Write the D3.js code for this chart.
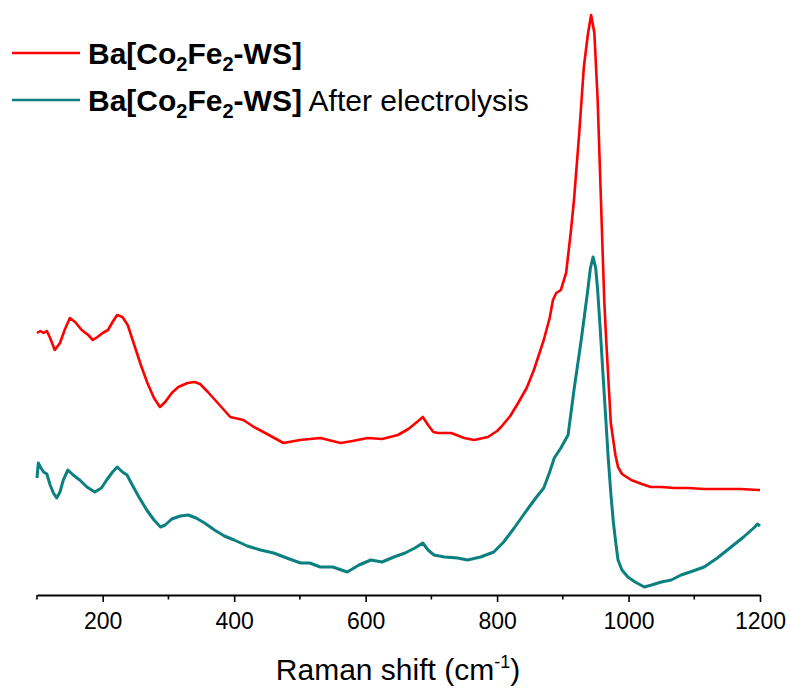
<!DOCTYPE html>
<html>
<head>
<meta charset="utf-8">
<script src="https://cdn.jsdelivr.net/npm/d3@7"></script>
<style>
  html, body { margin: 0; padding: 0; background: #fff; }
  svg { display: block; font-family: "Liberation Sans", Arial, sans-serif; }
</style>
</head>
<body>
<svg id="chart" width="790" height="690"></svg>
<script>
// ---- Data (Raman shift in cm-1, intensity in arbitrary units) ----
const redShift = [100,105,110,115,120,127,135,142,150,158,168,178,185,192,200,208,215,222,230,238,248,258,268,278,287,295,305,315,329,340,348,360,375,394,414,430,450,475,500,531,562,580,603,625,649,665,680,687,695,703,710,730,750,765,786,800,806,820,832,845,856,871,880,885,890,897,905,912,917,925,932,938,943,948,953,958,961,963,966,973,980,984,990,1004,1020,1034,1050,1070,1091,1115,1141,1170,1198,1200];
const redIntensity = [267,269,267,269,262,250,257,270,282,278,270,265,260,263,267,270,278,285,283,275,255,235,217,202,193,198,207,213,217,218,216,208,197,183,180,173,166,157,160,162,157,159,162,161,165,171,179,183,175,168,167,167,162,160,163,169,173,184,197,212,230,260,282,300,307,310,327,367,400,467,533,565,585,567,500,400,340,300,260,177,145,133,126,120,116,113,113,112,112,111,111,111,110,110];

const tealShift = [100,102,106,110,115,120,125,130,135,140,147,155,165,176,188,198,206,215,222,230,237,245,255,267,278,288,295,305,318,330,342,355,370,385,400,420,440,460,480,501,515,531,550,572,590,608,625,643,660,675,687,695,704,720,740,755,775,795,810,826,840,851,860,871,880,887,897,908,917,928,938,942,946,950,953,957,961,965,969,973,977,981,984,990,999,1010,1024,1035,1050,1065,1080,1098,1115,1135,1156,1175,1192,1196,1200];
const tealIntensity = [122,137,132,128,126,115,107,102,108,120,130,125,120,113,108,112,120,128,133,128,125,115,103,90,80,73,75,81,84,85,82,77,70,64,60,54,50,47,42,37,37,33,33,28,35,40,38,43,47,52,57,50,45,43,42,40,43,48,58,72,85,95,103,112,128,142,152,165,210,260,310,332,343,332,310,270,227,185,143,107,77,55,40,30,23,18,13,15,18,20,25,29,33,42,53,63,73,76,74];

const seriesColors = ["#ff0000", "#0c8080"];
const xTicks = [200, 400, 600, 800, 1000, 1200];
const xMinorTicks = [100, 300, 500, 700, 900, 1100];
const xTitle = "Raman shift (cm";

// ---- Layout ----
const svg = d3.select("#chart");
const x = d3.scaleLinear().domain([100, 1200]).range([37, 760]);
const y = d3.scaleLinear().domain([0, 600]).range([600, 0]);
const axisY = 595;

const line = d3.line().x(d => x(d[0])).y(d => y(d[1]));

const redData = redShift.map((s, i) => [s, redIntensity[i]]);
const tealData = tealShift.map((s, i) => [s, tealIntensity[i]]);

svg.append("path").datum(redData)
  .attr("d", line).attr("fill", "none")
  .attr("stroke", seriesColors[0]).attr("stroke-width", 2.6)
  .attr("stroke-linejoin", "round");

svg.append("path").datum(tealData)
  .attr("d", line).attr("fill", "none")
  .attr("stroke", seriesColors[1]).attr("stroke-width", 3)
  .attr("stroke-linejoin", "round");

// ---- X axis ----
const gx = svg.append("g").attr("transform", `translate(0,${axisY})`);
gx.call(d3.axisBottom(x).tickValues(xTicks).tickSize(7).tickSizeOuter(0).tickPadding(11).tickFormat(d3.format("d")));
gx.select(".domain").attr("stroke", "#000").attr("stroke-width", 1.8);
gx.selectAll(".tick line").attr("stroke", "#000").attr("stroke-width", 1.6);
gx.selectAll(".tick text").attr("font-size", 23).attr("fill", "#000")
  .attr("font-family", "'Liberation Sans', Arial, sans-serif");
gx.selectAll(".minor").data(xMinorTicks).enter().append("line")
  .attr("class", "minor")
  .attr("x1", d => x(d)).attr("x2", d => x(d))
  .attr("y1", 0).attr("y2", 4.5)
  .attr("stroke", "#000").attr("stroke-width", 1.6);

// ---- Axis title ----
const title = svg.append("text")
  .attr("x", 398).attr("y", 680)
  .attr("text-anchor", "middle")
  .attr("font-size", 30).attr("fill", "#000");
title.append("tspan").text(xTitle);
title.append("tspan").attr("dy", -12).attr("font-size", 18).text("-1");
title.append("tspan").attr("dy", 12).text(")");

// ---- Legend ----
const legendRows = [
  { y: 64, color: seriesColors[0], extra: "" },
  { y: 111, color: seriesColors[1], extra: " After electrolysis" }
];
legendRows.forEach(r => {
  svg.append("line")
    .attr("x1", 12).attr("x2", 80)
    .attr("y1", r.y - 11).attr("y2", r.y - 11)
    .attr("stroke", r.color).attr("stroke-width", 2.6);
  const t = svg.append("text").attr("x", 88).attr("y", r.y)
    .attr("font-size", 30).attr("fill", "#000");
  t.append("tspan").attr("font-weight", "bold").text("Ba[Co");
  t.append("tspan").attr("font-weight", "bold").attr("font-size", 20).attr("dy", 7).text("2");
  t.append("tspan").attr("font-weight", "bold").attr("dy", -7).text("Fe");
  t.append("tspan").attr("font-weight", "bold").attr("font-size", 20).attr("dy", 7).text("2");
  t.append("tspan").attr("font-weight", "bold").attr("dy", -7).text("-WS]");
  if (r.extra) t.append("tspan").attr("font-weight", "normal").text(r.extra);
});
</script>
</body>
</html>
